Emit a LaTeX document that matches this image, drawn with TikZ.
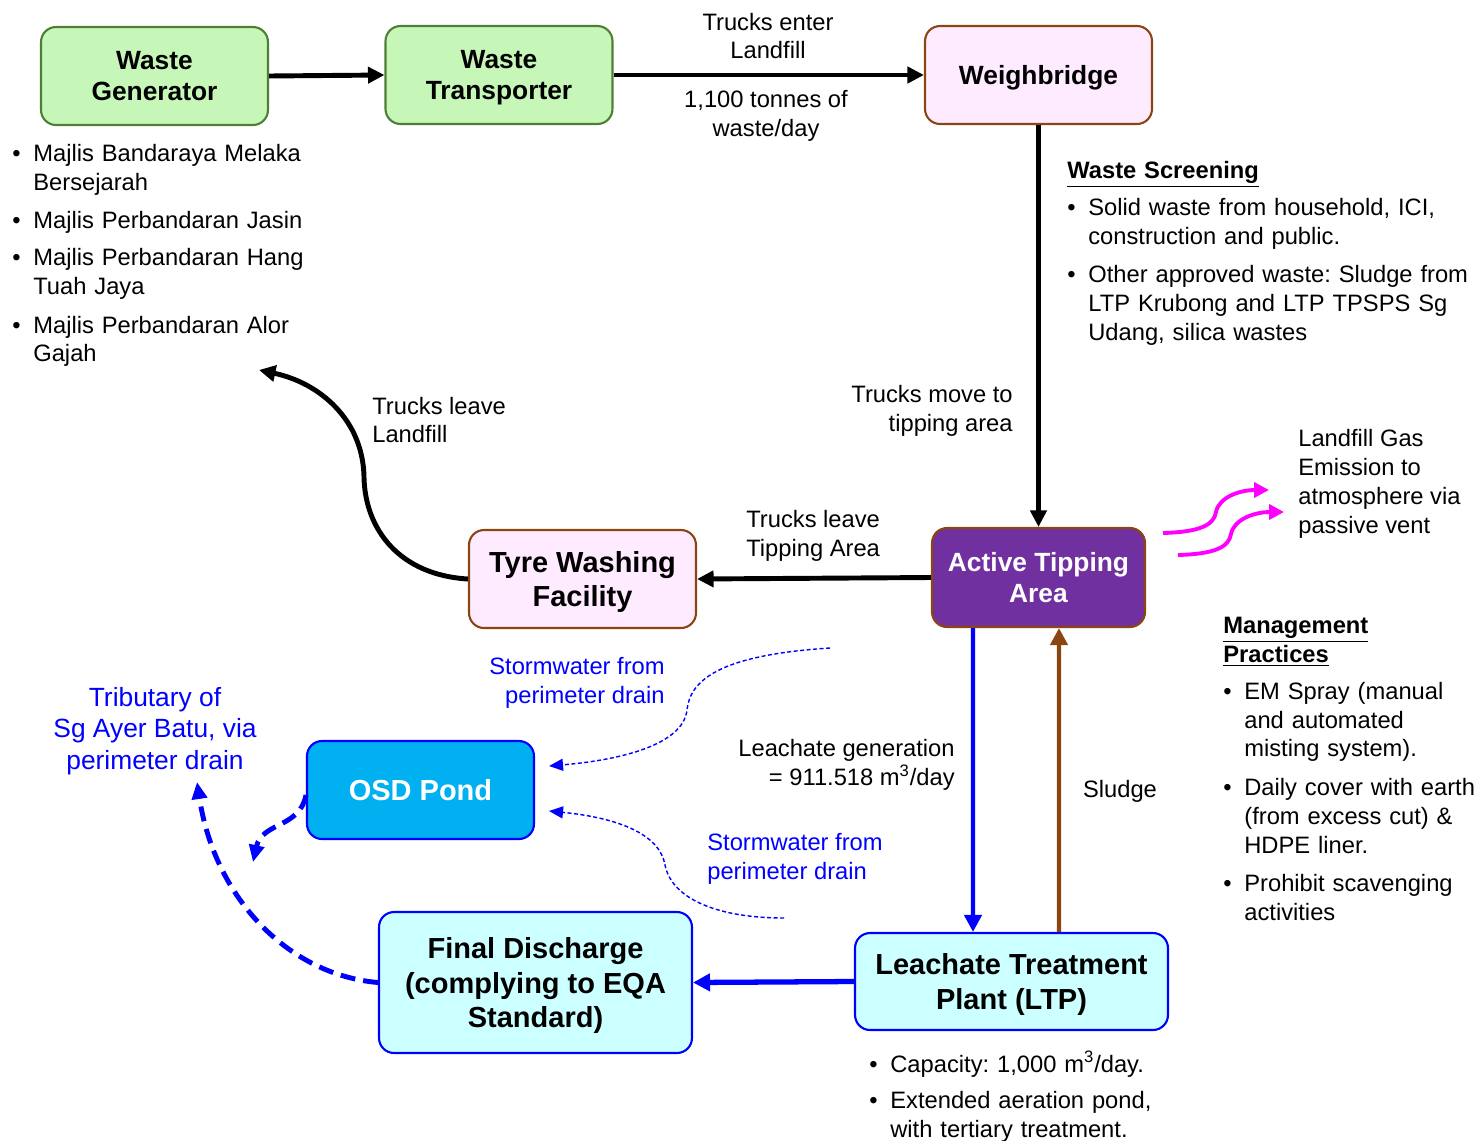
\documentclass[tikz,border=0pt]{standalone}
\usepackage{fontspec}
\setmainfont{Liberation Sans}
\usetikzlibrary{arrows.meta}
\definecolor{leafgreen}{HTML}{C6F7B9}
\definecolor{leafedge}{HTML}{4F7F35}
\definecolor{blush}{HTML}{FFEBFF}
\definecolor{rust}{HTML}{8B4513}
\definecolor{grape}{HTML}{7030A0}
\definecolor{pondblue}{HTML}{00B0F0}
\definecolor{paleaqua}{HTML}{CCFFFF}
\definecolor{drain}{HTML}{0000FF}
\definecolor{gasmag}{HTML}{FF00FF}
\newcommand{\plaintxt}{\fontsize{13.5}{16.4}\selectfont\frenchspacing}
\newcommand{\bitem}[1]{\noindent\makebox[0.42cm][l]{\strut\textbullet}\parbox[t]{\dimexpr\linewidth-0.42cm}{\strut#1\strut}\par\vspace{0.16cm}}
\begin{document}
\begin{tikzpicture}[x=0.02cm, y=-0.02cm, line join=round,
	box/.style={rounded corners=0.3cm, line width=1.2pt, align=center, inner sep=0pt, text depth=0pt, font=\fontsize{15}{18}\selectfont\bfseries},
	small/.style={minimum width=4.54cm, minimum height=1.96cm},
	big/.style={font=\fontsize{16.5}{19.9}\selectfont\bfseries},
	leafbox/.style={box, small, fill=leafgreen, draw=leafedge},
	pinkbox/.style={box, small, fill=blush, draw=rust},
	aquabox/.style={box, big, fill=paleaqua, draw=drain},
	txt/.style={font=\plaintxt, inner sep=0pt},
	bluetxt/.style={txt, text=drain},
	flow/.style={line width=2.8pt, -{Triangle[length=0.33cm, width=0.32cm]}},
	wet/.style={line width=2.4pt, draw=drain, -{Triangle[length=0.34cm, width=0.34cm]}},
	storm/.style={line width=0.8pt, draw=drain, dash pattern=on 0.08cm off 0.05cm, -{Triangle[length=0.28cm, width=0.24cm]}},
	spill/.style={line width=2.8pt, draw=drain, dash pattern=on 0.3cm off 0.16cm, -{Triangle[length=0.34cm, width=0.3cm]}},
	gas/.style={line width=2.2pt, draw=gasmag, -{Triangle[length=0.3cm, width=0.3cm]}}]
\useasboundingbox (0,0) rectangle (1477,1140);

% boxes
\node[leafbox] (gen) at (154.5,76) {Waste\\Generator};
\node[leafbox] (trans) at (499,75) {Waste\\Transporter};
\node[pinkbox] (wb) at (1038.5,75) {Weighbridge};
\node[box, fill=grape, draw=rust, text=white, minimum width=4.26cm, minimum height=1.98cm] (ata) at (1038.5,577.5) {Active Tipping\\Area};
\node[pinkbox, big] (tyre) at (582.5,579) {Tyre Washing\\Facility};
\node[box, big, fill=pondblue, draw=drain, text=white, small] (osd) at (420.5,790) {OSD Pond};
\node[aquabox, minimum width=6.26cm, minimum height=2.82cm] (fd) at (535.5,982.5) {Final Discharge\\(complying to EQA\\Standard)};
\node[aquabox, minimum width=6.26cm, minimum height=1.94cm] (ltp) at (1011.5,981.5) {Leachate Treatment\\Plant (LTP)};

% labels
\node[txt, align=center] (enter) at (768,36) {Trucks enter\\Landfill};
\node[txt, align=center] (tonnes) at (766,116) {1,100 tonnes of\\waste/day};
\node[txt, align=right, anchor=east] (move) at (1013,411) {Trucks move to\\tipping area};
\node[txt, align=left, anchor=west] (leaveta) at (746,536) {Trucks leave\\Tipping Area};
\node[txt, align=left, anchor=west] (leavelf) at (372,420) {Trucks leave\\Landfill};
\node[txt, align=right, anchor=east] (leach) at (955,765) {Leachate generation\\= 911.518 m\textsuperscript{3}/day};
\node[txt] (sludge) at (1120,791) {Sludge};
\node[txt, align=left, anchor=west] (lfg) at (1298,484) {Landfill Gas\\Emission to\\atmosphere via\\passive vent};
\node[bluetxt, align=center, font=\fontsize{15}{18}\selectfont] (trib) at (155,731) {Tributary of\\Sg Ayer Batu, via\\perimeter drain};
\node[bluetxt, align=right, anchor=east] (swtop) at (665,683) {Stormwater from\\perimeter drain};
\node[bluetxt, align=left, anchor=west] (swbot) at (707,859) {Stormwater from\\perimeter drain};

% lists
\node[txt, anchor=north west, text width=6.4cm] (councils) at (12,141) {%
\bitem{Majlis Bandaraya Melaka\\Bersejarah}
\bitem{Majlis Perbandaran Jasin}
\bitem{Majlis Perbandaran Hang\\Tuah Jaya}
\bitem{Majlis Perbandaran Alor\\Gajah}};
\node[txt, anchor=north west, text width=8.2cm] (screen) at (1067,161) {%
\noindent\underline{\textbf{Waste Screening}}\par\vspace{0.16cm}
\bitem{Solid waste from household, ICI,\\construction and public.}
\bitem{Other approved waste: Sludge from\\LTP Krubong and LTP TPSPS Sg\\Udang, silica wastes}};
\node[txt, anchor=north west, text width=5.2cm] (mgmt) at (1223,617) {%
\noindent\underline{\textbf{Management}}\\\underline{\textbf{Practices}}\par\vspace{0.16cm}
\bitem{EM Spray (manual\\and automated\\misting system).}
\bitem{Daily cover with earth\\(from excess cut) \&\\HDPE liner.}
\bitem{Prohibit scavenging\\activities}};
\node[txt, anchor=north west, text width=6.4cm] (ltpnote) at (869,1051) {%
\bitem{Capacity: 1,000 m\textsuperscript{3}/day.}
\bitem{Extended aeration pond,\\with tertiary treatment.}};

% free ends
\coordinate (tribend) at (197,782);
\coordinate (osdout) at (253,862);
\coordinate (stormA) at (830,648);
\coordinate (stormB) at (784,918);

% connectors
\draw[flow] (gen.east) -- (trans.west);
\draw[flow] (trans.east) -- (wb.west);
\draw[flow] (wb.south) -- (ata.north);
\draw[flow] (ata.west) -- (tyre.east);
\draw[flow] (tyre.west) .. controls (400,575) and (365,530) .. (364,477) .. controls (363,420) and (320,383) .. (259,370);
\draw[wet] ([xshift=-1.31cm]ata.south) -- ([xshift=-0.77cm]ltp.north);
\draw[wet, draw=rust] ([xshift=0.95cm]ltp.north) -- ([xshift=0.41cm]ata.south);
\draw[wet, line width=3pt] (ltp.west) -- (fd.east);
\draw[spill] (fd.west) .. controls (290,975) and (215,900) .. (tribend);
\draw[spill] ([yshift=-0.1cm]osd.west) .. controls (300,828) and (262,822) .. (osdout);
\draw[storm] (stormA) .. controls (720,655) and (690,680) .. (687,710) .. controls (683,745) and (620,760) .. ([shift={(14,-24)}]osd.east);
\draw[storm] (stormB) .. controls (720,918) and (672,900) .. (665,865) .. controls (660,835) and (620,818) .. ([shift={(14,21)}]osd.east);
\foreach \dx/\dy in {0/0,15/22}
	\draw[gas, shift={(\dx,\dy)}] (1163,533) .. controls (1200,532) and (1214,525) .. (1216,512) .. controls (1219,497) and (1240,490) .. (1269,490);
\end{tikzpicture}
\end{document}
